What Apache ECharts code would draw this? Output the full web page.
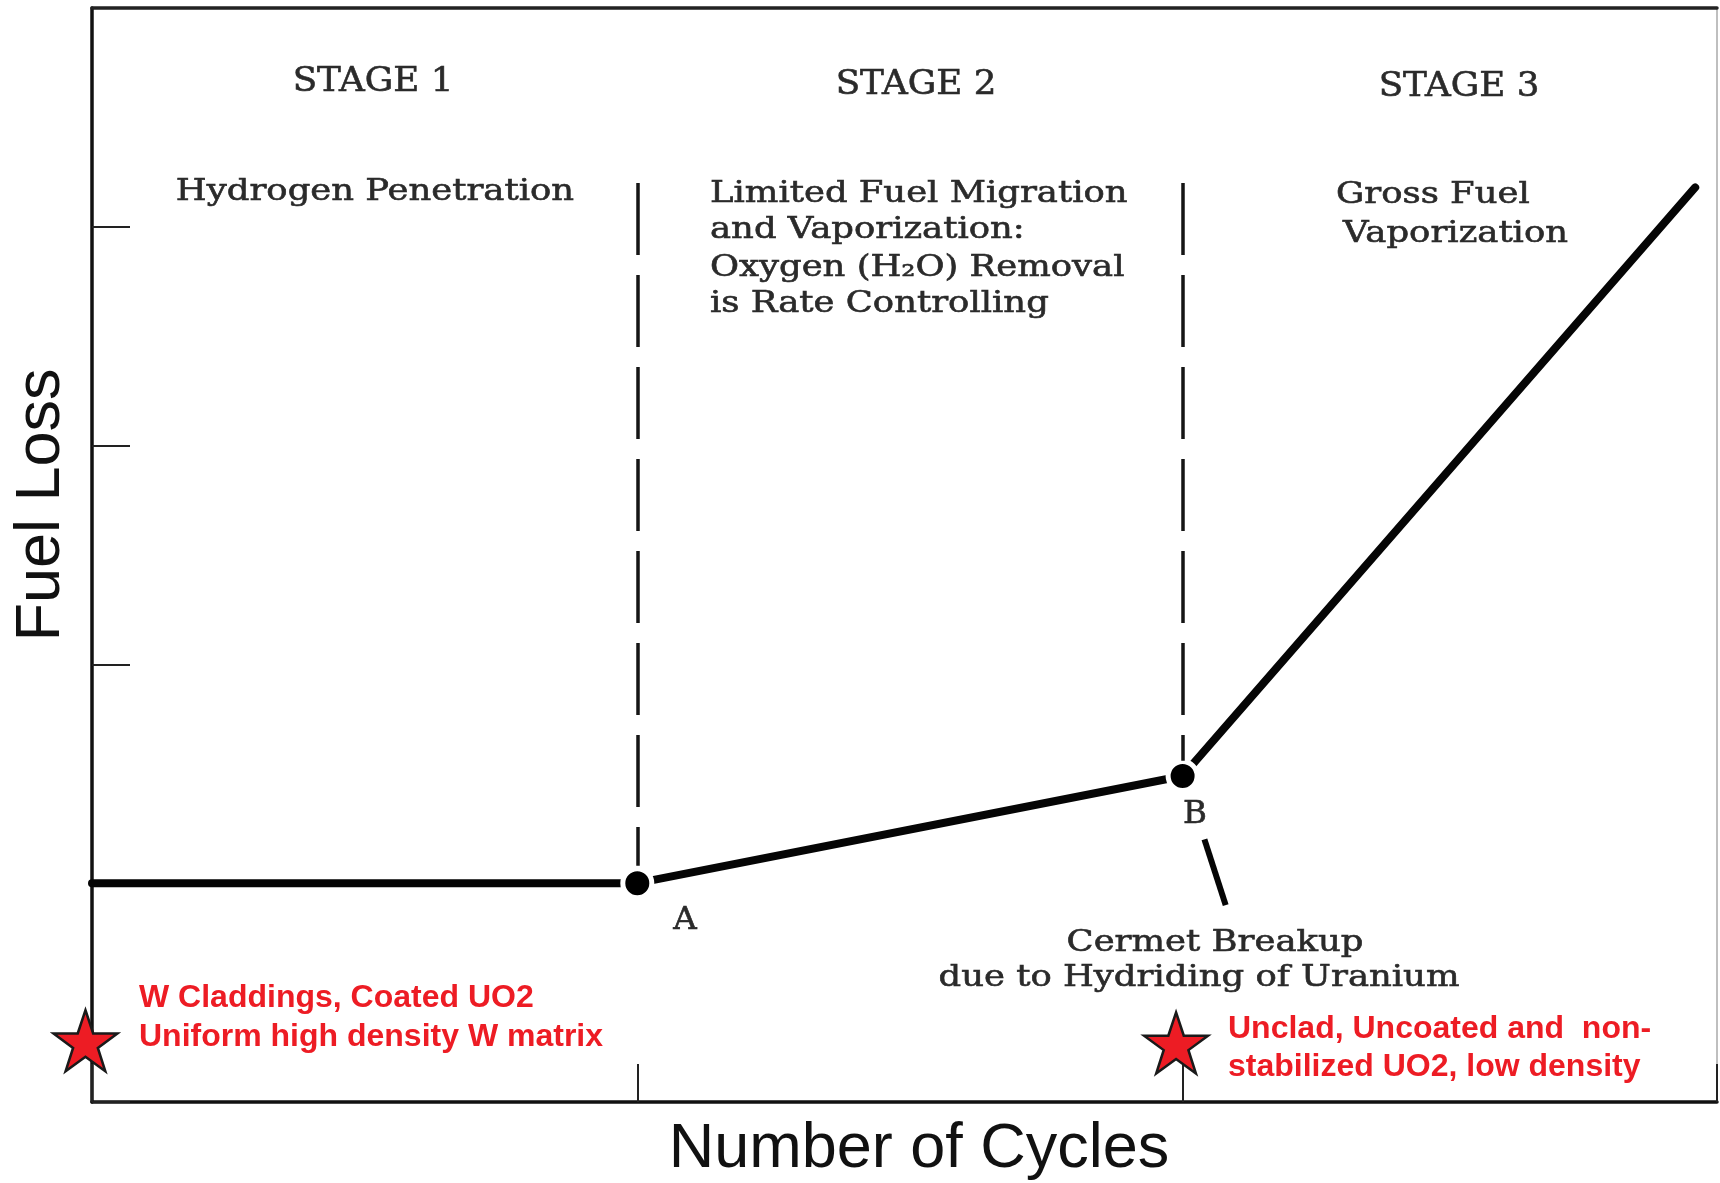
<!DOCTYPE html>
<html>
<head>
<meta charset="utf-8">
<script src="https://cdn.jsdelivr.net/npm/echarts/dist/echarts.min.js"></script>
<style>
  html, body { margin: 0; padding: 0; background: #fff; }
  #chart { width: 1720px; height: 1183px; }
</style>
</head>
<body>
<div id="chart"></div>
<script>
// fuel loss vs number of cycles (schematic, arbitrary units)
const fuelLoss = [[0, 1.0], [1.0, 1.0], [2.0, 1.49], [2.94, 4.18]];
const transitionPts = [[1.0, 1.0], [2.0, 1.49]];
const transitionNames = ["A", "B"];
const stageBounds = [1, 2];
const boundTop = [4.2, 4.2];
const boundBottom = [1.08, 1.56];
const starPts = [[-0.012, 0.28], [1.988, 0.27]];
const pointerLine = [[2.04, 1.2], [2.079, 0.9]];

const stageNames = ["STAGE 1", "STAGE 2", "STAGE 3"];
const stage1Note = ["Hydrogen Penetration"];
const stage2Note = ["Limited Fuel Migration", "and Vaporization:", "Oxygen (H\u2082O) Removal", "is Rate Controlling"];
const stage3Note = ["Gross Fuel", "Vaporization"];
const breakupNote = ["Cermet Breakup", "due to Hydriding of Uranium"];
const goodFuel = ["W Claddings, Coated UO2", "Uniform high density W matrix"];
const badFuel = ["Unclad, Uncoated and  non-", "stabilized UO2, low density"];

const SERIF = "'DejaVu Serif', serif";
const SANS = "'Liberation Sans', Arial, sans-serif";
const INK = "#2a2a2a";
const RED = "#ed1c24";
const STAR = "path://M50,0 L61.8,35.1 L98.9,35.1 L68.9,56.9 L80.3,92.1 L50,70.4 L19.7,92.1 L31.1,56.9 L1.1,35.1 L38.2,35.1 Z";

function txt(text, x, y, o) {
  o = o || {};
  const serif = !o.family;
  return {
    type: "text", x: x, y: y, rotation: o.rotation || 0, z: 10,
    scaleX: o.sx || (serif ? 1.18 : 1),
    style: {
      text: text,
      fill: o.fill || INK,
      stroke: serif ? INK : null,
      lineWidth: serif ? 0.6 : 0,
      fontSize: o.size || 30,
      fontFamily: o.family || SERIF,
      fontWeight: o.weight || "normal",
      align: o.align || "center", textAlign: o.align || "center",
      verticalAlign: "middle", textVerticalAlign: "middle"
    }
  };
}

const graphics = [
  txt(stageNames[0], 373, 82, { size: 34, sx: 1.05 }),
  txt(stageNames[1], 916, 85, { size: 34, sx: 1.05 }),
  txt(stageNames[2], 1459, 87, { size: 34, sx: 1.05 }),
  txt(stage1Note[0], 375, 192),
  txt(transitionNames[0], 685, 921, { size: 31, sx: 1.05 }),
  txt(transitionNames[1], 1195, 815, { size: 31, sx: 1.05 }),
  txt(stage3Note[0], 1336, 195, { align: "left" }),
  txt(stage3Note[1], 1343, 234, { align: "left" }),
  txt(breakupNote[0], 1215, 943),
  txt(breakupNote[1], 1199, 978),
  txt("Number of Cycles", 919, 1150, { family: SANS, size: 63, fill: "#111" }),
  txt("Fuel Loss", 42, 505, { family: SANS, size: 63, fill: "#111", rotation: Math.PI / 2 })
];
[194, 230, 268, 304].forEach((y, i) => graphics.push(txt(stage2Note[i], 710, y, { align: "left" })));
[998, 1037].forEach((y, i) => graphics.push(txt(goodFuel[i], 139, y, { align: "left", family: SANS, weight: "bold", size: 32, fill: RED })));
[1029, 1067].forEach((y, i) => graphics.push(txt(badFuel[i], 1228, y, { align: "left", family: SANS, weight: "bold", size: 32, fill: RED })));

const axisBase = {
  type: "value",
  axisLabel: { show: false },
  splitLine: { show: false }
};

const chart = echarts.init(document.getElementById("chart"));
chart.setOption({
  animation: false,
  backgroundColor: "#fff",
  grid: { left: 92, top: 8, right: 3, bottom: 81 },
  xAxis: [
    Object.assign({}, axisBase, {
      min: 0, max: 2.98, interval: 1, position: "bottom",
      axisLine: { onZero: false, lineStyle: { color: "#111", width: 3.5 } },
      axisTick: { inside: true, length: 38, lineStyle: { color: "#222", width: 2 } }
    }),
    Object.assign({}, axisBase, {
      min: 0, max: 2.98, interval: 1, position: "top",
      axisLine: { onZero: false, lineStyle: { color: "#222", width: 3.5 } },
      axisTick: { show: false }
    })
  ],
  yAxis: [
    Object.assign({}, axisBase, {
      min: 0, max: 5, interval: 1, position: "left",
      axisLine: { onZero: false, lineStyle: { color: "#111", width: 3.5 } },
      axisTick: { inside: true, length: 38, lineStyle: { color: "#222", width: 2 } }
    }),
    Object.assign({}, axisBase, {
      min: 0, max: 5, interval: 1, position: "right",
      axisLine: { onZero: false, lineStyle: { color: "#aaa", width: 1.5 } },
      axisTick: { show: false }
    })
  ],
  series: [
    {
      name: "Fuel Loss",
      type: "line",
      data: fuelLoss,
      showSymbol: false,
      z: 3,
      lineStyle: { color: "#050505", width: 8, cap: "round" },
      markLine: {
        silent: true,
        symbol: "none",
        label: { show: false },
        data: stageBounds.map((x, i) => [
          { coord: [x, boundTop[i]], lineStyle: { type: [72, 20], width: 3.5, color: "#151515" } },
          { coord: [x, boundBottom[i]] }
        ]).concat([[
          { coord: pointerLine[0], lineStyle: { type: "solid", width: 6, color: "#050505" } },
          { coord: pointerLine[1] }
        ]])
      }
    },
    {
      name: "Transitions",
      type: "scatter",
      data: transitionPts,
      symbolSize: 29,
      z: 4,
      itemStyle: { color: "#000", borderColor: "#fff", borderWidth: 5, opacity: 1 }
    },
    {
      name: "Fuel types",
      type: "scatter",
      data: starPts,
      symbol: STAR,
      symbolSize: [64, 61],
      clip: false,
      z: 5,
      itemStyle: { color: RED, borderColor: "#1a1a1a", borderWidth: 2.5, opacity: 1 }
    }
  ],
  graphic: graphics
});
</script>
</body>
</html>
